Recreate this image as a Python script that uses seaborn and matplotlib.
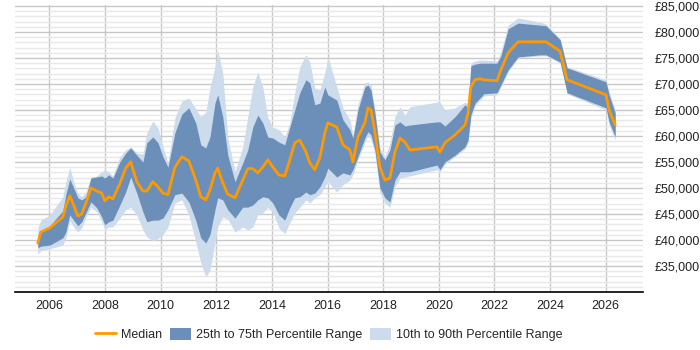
import matplotlib
matplotlib.use("Agg")
import matplotlib.pyplot as plt
import matplotlib.ticker as mticker
import pandas as pd
import seaborn as sns

sns.set_theme(style="white")
plt.rcParams["font.family"] = ["Liberation Sans", "DejaVu Sans"]

years = [
    2005.58, 2005.69, 2006.01, 2006.48, 2006.59, 2006.73, 2006.87, 2007.02, 2007.16, 2007.31,
    2007.49, 2007.70, 2007.88, 2007.99, 2008.13, 2008.28, 2008.53, 2008.74, 2008.92, 2009.14,
    2009.36, 2009.50, 2009.72, 2009.90, 2010.08, 2010.26, 2010.51, 2010.76, 2011.01, 2011.26,
    2011.44, 2011.62, 2011.77, 2011.95, 2012.05, 2012.23, 2012.41, 2012.67, 2012.95, 2013.13,
    2013.31, 2013.49, 2013.67, 2013.85, 2014.03, 2014.25, 2014.46, 2014.64, 2014.82, 2015.00,
    2015.22, 2015.36, 2015.54, 2015.72, 2015.90, 2016.01, 2016.33, 2016.55, 2016.80, 2016.91,
    2017.09, 2017.34, 2017.45, 2017.56, 2017.70, 2017.88, 2018.06, 2018.24, 2018.42, 2018.60,
    2018.78, 2018.96, 2019.93, 2020.04, 2020.22, 2020.58, 2020.94, 2021.05, 2021.15, 2021.30,
    2021.48, 2021.62, 2022.09, 2022.23, 2022.49, 2022.85, 2023.64, 2023.85, 2024.36, 2024.61,
    2026.01, 2026.12, 2026.34,
]
p90 = [
    42300, 43800, 44800, 48300, 51200, 54000, 51200, 49000, 48300, 49200,
    52100, 52300, 53100, 53500, 53100, 52300, 56000, 57300, 57900, 56700,
    56500, 60600, 62900, 61500, 57900, 54800, 63500, 66700, 67300, 65200,
    63700, 64600, 69200, 73300, 76500, 72100, 59600, 53100, 57900, 63700,
    69400, 72300, 69400, 63500, 61700, 61200, 59800, 62500, 68300, 73300,
    75600, 74200, 69200, 68800, 72100, 75200, 69400, 65400, 63100, 60200,
    66000, 70200, 70400, 69800, 65000, 57700, 56000, 58700, 63700, 65600,
    64000, 65600, 66500, 66500, 65000, 65400, 66500, 66000, 74000, 74400,
    74600, 74600, 74400, 76200, 81300, 82700, 81900, 81500, 78700, 73300,
    70800, 68500, 65000,
]
p75 = [
    40800, 41700, 42700, 45600, 48700, 51700, 50000, 48100, 47700, 48300,
    51900, 52100, 52300, 51900, 52500, 51900, 55000, 56700, 57700, 56300,
    55000, 58700, 59800, 58700, 56000, 54000, 60600, 64200, 65400, 62500,
    58300, 57700, 59800, 66300, 67900, 63700, 56300, 51200, 54800, 57300,
    61700, 64000, 62500, 59800, 59600, 58800, 58300, 61700, 65000, 68300,
    70800, 70200, 66000, 66300, 69400, 67900, 66900, 63100, 61200, 59600,
    65000, 69400, 69800, 68800, 64400, 56900, 55400, 57300, 62100, 62700,
    61900, 62100, 62700, 62700, 61900, 63700, 66000, 65400, 73500, 73800,
    74000, 74000, 74000, 75400, 80600, 81700, 81300, 81200, 78500, 73100,
    70400, 67900, 64400,
]
p50 = [
    39400, 41500, 42300, 44400, 46500, 48500, 46700, 44600, 45000, 47100,
    50000, 49400, 49000, 47500, 48300, 47900, 50800, 53800, 55000, 51200,
    49400, 49400, 51200, 50200, 49000, 48700, 54000, 56000, 55200, 51500,
    48300, 47700, 49600, 52900, 53800, 51000, 48800, 48100, 51500, 53700,
    53700, 52900, 54000, 55400, 54000, 52500, 52300, 55400, 58700, 59200,
    56900, 54800, 53500, 55800, 60600, 62500, 61700, 58300, 57300, 55000,
    59800, 62500, 65400, 65000, 60800, 54000, 51500, 51900, 56900, 59600,
    58800, 57300, 57900, 56900, 58700, 60200, 62100, 64400, 69400, 70800,
    71000, 70800, 70600, 72700, 76000, 78100, 78100, 78100, 76300, 70800,
    67900, 65000, 62100,
]
p25 = [
    38500, 38800, 39000, 40400, 41500, 44800, 43800, 42700, 43500, 45200,
    47300, 46200, 44400, 42900, 43500, 43800, 46700, 49200, 52100, 49000,
    45400, 43500, 43800, 43800, 44200, 45800, 48700, 49000, 47300, 43800,
    40400, 39400, 41000, 45800, 48100, 47700, 45800, 44200, 46300, 46300,
    46700, 47700, 48300, 48100, 47100, 44800, 43800, 46200, 48100, 48300,
    49200, 48700, 49000, 50200, 52100, 53800, 52100, 52900, 52500, 53500,
    56000, 59600, 60800, 60200, 57300, 50000, 48100, 47300, 51500, 53100,
    53100, 53100, 54400, 53500, 55000, 56300, 57900, 59200, 64000, 66300,
    67300, 68100, 68300, 69800, 72700, 75200, 75600, 75600, 74200, 68300,
    65400, 62700, 59800,
]
p10 = [
    37300, 37900, 38300, 39000, 40400, 43700, 42500, 41500, 42300, 44400,
    46300, 45400, 43500, 41900, 42500, 42500, 44200, 45800, 46300, 44800,
    41900, 40600, 39800, 40200, 41000, 42500, 47100, 47700, 44800, 39600,
    35600, 32900, 34200, 39400, 42500, 44400, 44000, 41500, 42500, 41900,
    42500, 44800, 45200, 46300, 45400, 42300, 41200, 43300, 45200, 46300,
    47700, 47100, 48100, 48700, 50200, 51200, 49200, 50600, 51500, 52500,
    55400, 58700, 60200, 59200, 56700, 49000, 47100, 46300, 50200, 51900,
    52100, 52300, 53500, 53100, 54600, 56000, 57500, 58700, 63500, 65800,
    66900, 67700, 67900, 69400, 72300, 75000, 75400, 75400, 74000, 68100,
    65000, 62100, 59200,
]

df = pd.DataFrame({"year": years, "p10": p10, "p25": p25, "p50": p50, "p75": p75, "p90": p90})

dark = "#6b8fb8"
light = "#ccdcec"
orange = "#ff9900"

fig = plt.figure(figsize=(7, 3.5), dpi=100)
ax = fig.add_axes([0.021, 0.166, 0.898, 0.820])

ax.fill_between(df["year"], df["p10"], df["p90"], color=light, lw=0,
                label="10th to 90th Percentile Range", zorder=2)
ax.fill_between(df["year"], df["p25"], df["p75"], color=dark, lw=0,
                label="25th to 75th Percentile Range", zorder=3)
sns.lineplot(data=df, x="year", y="p50", color=orange, lw=2, ax=ax,
             label="Median", zorder=4)

ax.set_xlim(2004.75, 2027.35)
ax.set_ylim(30000, 85200)
ax.set_xticks(range(2006, 2027, 2))
ax.yaxis.set_major_locator(mticker.MultipleLocator(5000))
ax.yaxis.set_minor_locator(mticker.MultipleLocator(1000))
ax.set_yticks(range(35000, 85001, 5000))
ax.yaxis.set_major_formatter(mticker.FuncFormatter(lambda v, p: f"£{int(v):,}"))
ax.yaxis.tick_right()
ax.set_xlabel("")
ax.set_ylabel("")

ax.grid(axis="x", which="major", color="#c8c8c8", lw=1, zorder=1)
ax.grid(axis="y", which="major", color="#c8c8c8", lw=1, zorder=1)
ax.grid(axis="y", which="minor", color="#e8e8e8", lw=1, zorder=1)
ax.set_axisbelow(True)

for s in ["top", "left", "right"]:
    ax.spines[s].set_visible(False)
ax.spines["bottom"].set_color("black")
ax.spines["bottom"].set_linewidth(1.2)
ax.tick_params(axis="y", which="both", length=0, pad=8, labelsize=9, colors="#222222")
ax.tick_params(axis="x", length=0, pad=6, labelsize=9, colors="#222222")

ax.get_legend().remove()
h, l = ax.get_legend_handles_labels()
order = [l.index("Median"), l.index("25th to 75th Percentile Range"),
         l.index("10th to 90th Percentile Range")]
fig.legend([h[i] for i in order], [l[i] for i in order], loc="lower center",
           bbox_to_anchor=(0.47, -0.007), ncol=3, frameon=False, fontsize=9,
           handlelength=1.7, handleheight=1.0, handletextpad=0.4, columnspacing=0.6)

fig.savefig("out.png", dpi=100)
